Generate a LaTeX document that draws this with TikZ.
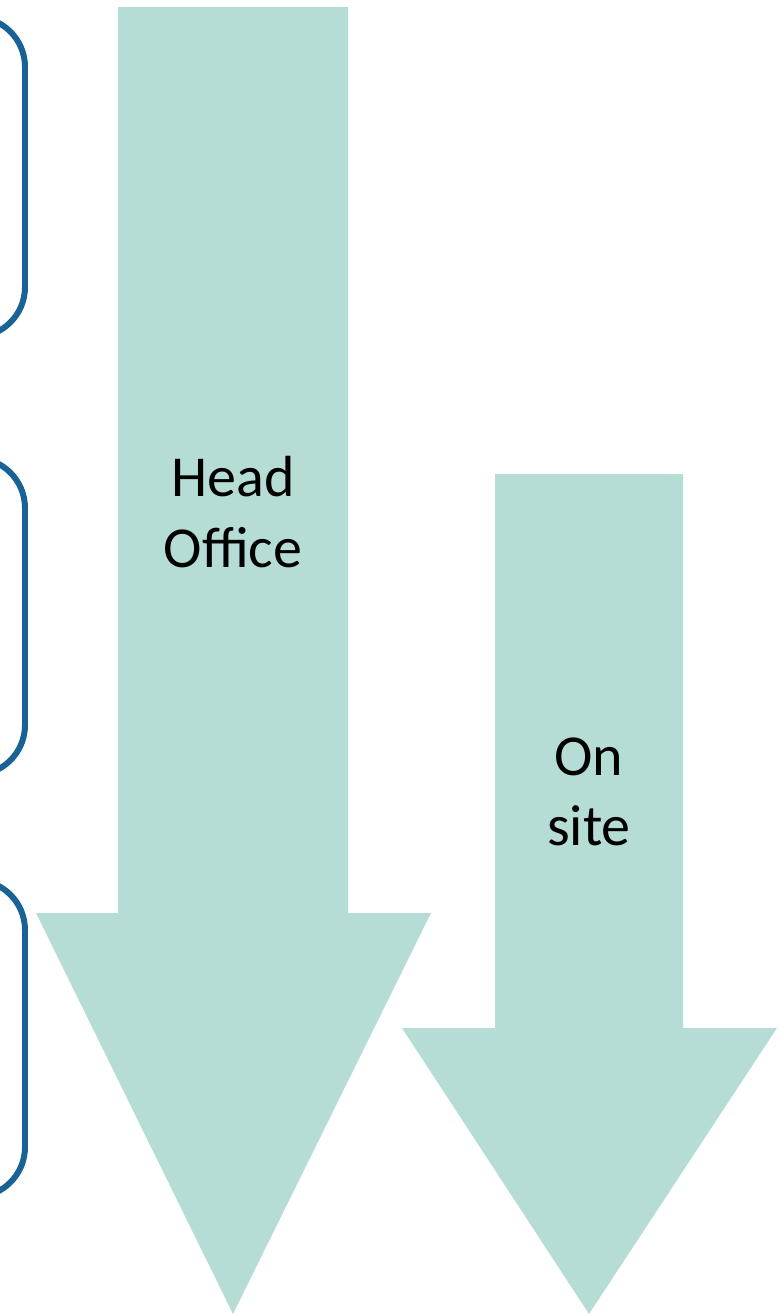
\documentclass[tikz,border=0pt]{standalone}
\usepackage{fontspec}
\setmainfont{Carlito}
\definecolor{arrowteal}{RGB}{181,221,214}
\definecolor{bracketblue}{RGB}{24,98,150}
\begin{document}
\begin{tikzpicture}[
	x=0.02cm, y=-0.02cm,
	bigarrow/.style={fill=arrowteal, draw=none},
	brace/.style={draw=bracketblue, line width=3.4pt, rounded corners=1cm},
	label/.style={align=center, font=\fontsize{33}{40}\selectfont, inner sep=0pt}
	]
	\useasboundingbox (0,0) rectangle (781,1316);
	\clip (0,0) rectangle (781,1316);
	% left brackets
	\path[brace]  (-80,17) -- (25,17) -- (25,337) -- (-80,337);
	\path[brace]  (-80,458) -- (25,458) -- (25,775) -- (-80,775);
	\path[brace]  (-80,880) -- (25,880) -- (25,1197) -- (-80,1197);
	% arrows
	\path[bigarrow]  (118,7) -- (348,7) -- (348,913) -- (431,913) -- (233,1314)
		-- (36,913) -- (118,913) -- cycle;
	\path[bigarrow]  (495,474) -- (683,474) -- (683,1028) -- (777,1028) -- (589,1314)
		-- (402,1028) -- (495,1028) -- cycle;
	\node[label]  (head) at (233,512)  {Head\\Office};
	\node[label]  (site) at (589,792)  {On\\site};
\end{tikzpicture}
\end{document}
